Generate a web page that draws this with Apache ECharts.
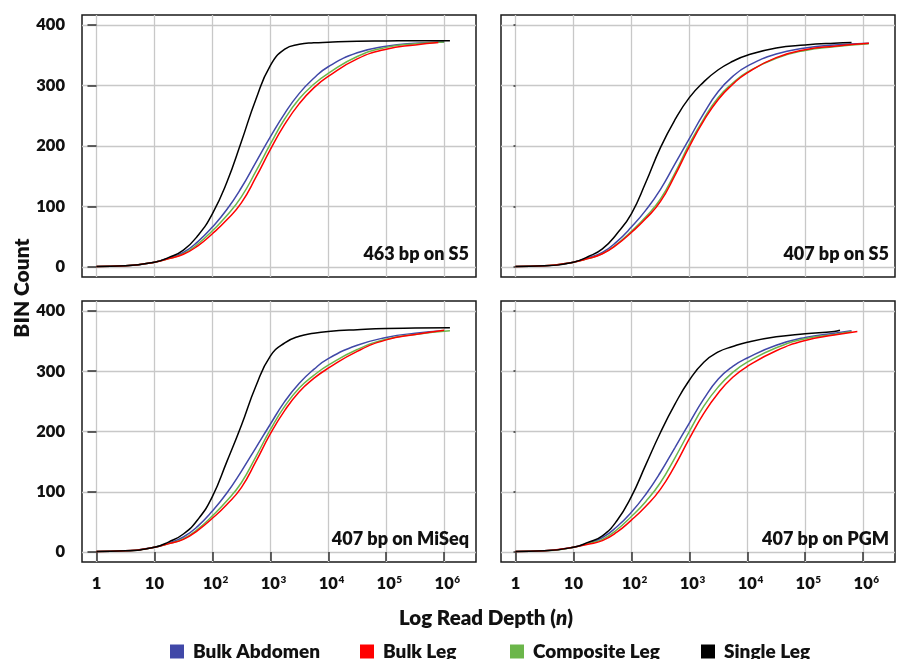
<!DOCTYPE html>
<html>
<head>
<meta charset="utf-8">
<script src="https://cdn.jsdelivr.net/npm/echarts@6/dist/echarts.min.js"></script>
<style>
  html, body { margin: 0; padding: 0; background: #ffffff; }
  #chart { width: 900px; height: 659px; }
</style>
</head>
<body>
<div id="chart"></div>
<script>
// ---------------- DATA ----------------
// x positions are log10 of read depth n (n = 10^exp)
const depthExp = [0, 0.5, 1, 1.25, 1.5, 1.75, 2, 2.25, 2.5, 2.75, 3, 3.25, 3.5, 3.75, 4, 4.5, 5, 5.5];

const seriesNames = ['Bulk Abdomen', 'Bulk Leg', 'Composite Leg', 'Single Leg'];
const panelTitles = ['463 bp on S5', '407 bp on S5', '407 bp on MiSeq', '407 bp on PGM'];

// Panel 1: 463 bp on S5
const p1Abdomen   = [1, 2, 8, 15, 24, 42, 66, 95, 131, 173, 215, 254, 287, 312, 331, 354, 365, 370];
const p1Leg       = [1, 2, 8, 14, 21, 35, 55, 78, 106, 148, 194, 236, 270, 296, 315, 344, 360, 367];
const p1Composite = [1, 2, 8, 14, 22, 38, 60, 85, 116, 158, 203, 245, 278, 302, 320, 348, 363, 369];
const p1Single    = [1, 2, 8, 16, 28, 52, 88, 140, 207, 277, 333, 360, 368, 370.5, 371.5, 373, 373.5, 374];
const p1EndExp = [6.0, 5.9, 6.0, 6.1];
const p1EndVal = [372, 371, 372, 374];

// Panel 2: 407 bp on S5
const p2Abdomen   = [1, 2, 8, 15, 24, 42, 66, 94, 128, 170, 212, 254, 290, 315, 332, 352, 362, 367];
const p2Leg       = [1, 2, 8, 14, 22, 37, 57, 80, 108, 151, 199, 242, 277, 302, 321, 346, 359, 365];
const p2Composite = [1, 2, 8, 14, 22, 38, 59, 83, 112, 155, 203, 245, 280, 304, 322, 345, 358, 364];
const p2Single    = [1, 2, 8, 17, 30, 55, 88, 140, 197, 243, 280, 306, 326, 340, 350, 362, 367, 370];
const p2EndExp = [6.1, 6.1, 6.1, 5.8];
const p2EndVal = [370, 370, 369, 371];

// Panel 3: 407 bp on MiSeq
const p3Abdomen   = [1, 2, 8, 15, 25, 43, 68, 98, 134, 173, 212, 250, 280, 303, 321, 343, 356, 363];
const p3Leg       = [1, 2, 8, 14, 21, 36, 56, 79, 107, 150, 196, 235, 266, 288, 305, 333, 352, 361];
const p3Composite = [1, 2, 8, 14, 22, 38, 60, 85, 115, 158, 203, 242, 272, 293, 310, 336, 353, 361];
const p3Single    = [1, 2, 8, 17, 30, 54, 92, 150, 210, 275, 325, 347, 358, 363, 366, 369, 371, 371.5];
const p3EndExp = [6.0, 6.0, 6.1, 6.1];
const p3EndVal = [367, 368, 367, 372];

// Panel 4: 407 bp on PGM
const p4Abdomen   = [1, 2, 8, 15, 24, 42, 66, 96, 132, 173, 214, 254, 287, 308, 322, 343, 356, 363];
const p4Leg       = [1, 2, 8, 13, 19, 33, 53, 76, 104, 143, 188, 230, 264, 290, 308, 334, 351, 360];
const p4Composite = [1, 2, 8, 14, 21, 37, 59, 84, 115, 156, 200, 242, 274, 298, 315, 339, 354, 361];
const p4Single    = [1, 2, 8, 16, 27, 52, 92, 145, 198, 245, 285, 315, 332, 341, 348, 357, 362, 366];
const p4EndExp = [5.8, 5.9, 5.8, 5.6];
const p4EndVal = [367, 366, 366, 368];

// axis ticks
const xTickExp = [0, 1, 2, 3, 4, 5, 6];
const xTickLabels = ['1', '10', '10^2', '10^3', '10^4', '10^5', '10^6'];
const yTicks = [0, 100, 200, 300, 400];

// ---------------- STYLE / LAYOUT ----------------
const FONT = 'Lato, "Open Sans", "DejaVu Sans", sans-serif';
const W = 800;
const TXT = '#111111';
const colors = {
  'Bulk Abdomen': '#4048a8',
  'Bulk Leg': '#ff0000',
  'Composite Leg': '#6bb64a',
  'Single Leg': '#000000'
};
const grids = [
  { left: 82,  top: 15,  width: 394, height: 262 },
  { left: 501, top: 15,  width: 394, height: 262 },
  { left: 82,  top: 301, width: 394, height: 261 },
  { left: 501, top: 301, width: 394, height: 261 }
];

const panels = [
  { Abdomen: p1Abdomen, Leg: p1Leg, Composite: p1Composite, Single: p1Single, endExp: p1EndExp, endVal: p1EndVal },
  { Abdomen: p2Abdomen, Leg: p2Leg, Composite: p2Composite, Single: p2Single, endExp: p2EndExp, endVal: p2EndVal },
  { Abdomen: p3Abdomen, Leg: p3Leg, Composite: p3Composite, Single: p3Single, endExp: p3EndExp, endVal: p3EndVal },
  { Abdomen: p4Abdomen, Leg: p4Leg, Composite: p4Composite, Single: p4Single, endExp: p4EndExp, endVal: p4EndVal }
];

function buildData(vals, endExp, endVal) {
  const d = vals.map((v, k) => [depthExp[k], v]);
  d.push([endExp, endVal]);
  return d;
}

function xFormatter(value) {
  const idx = xTickExp.indexOf(Math.round(value));
  const lab = idx >= 0 ? xTickLabels[idx] : '';
  if (lab.indexOf('^') >= 0) {
    const parts = lab.split('^');
    return '{p| }{b|' + parts[0] + '}{s|' + parts[1] + '}';
  }
  return '{b|' + lab + '}';
}

const gridLineStyle = { color: '#c8c8c8', width: 1.3 };
const tickLineStyle = { color: '#333333', width: 1.5 };

const xAxes = grids.map((g, i) => {
  const bottom = i >= 2;
  return {
    type: 'value', gridIndex: i, min: -0.25, max: 6.55,
    axisLine: { show: false },
    axisTick: { show: bottom, length: 9, customValues: xTickExp, lineStyle: tickLineStyle },
    axisLabel: {
      show: bottom, customValues: xTickExp, margin: 13,
      formatter: xFormatter,
      color: TXT, fontFamily: FONT, fontWeight: W, fontSize: 16,
      rich: {
        b: { fontFamily: FONT, fontWeight: W, fontSize: 16.5, color: TXT, lineHeight: 18, verticalAlign: 'middle' },
        s: { fontFamily: FONT, fontWeight: W, fontSize: 10, color: TXT, lineHeight: 10, verticalAlign: 'top', width: 7 },
        p: { fontSize: 10, lineHeight: 10, width: 7 }
      }
    },
    splitLine: { show: true, lineStyle: gridLineStyle }
  };
});

const yAxes = grids.map((g, i) => {
  const left = (i % 2) === 0;
  return {
    type: 'value', gridIndex: i, min: -16.5, max: 416.5,
    axisLine: { show: false },
    axisTick: { show: true, length: left ? 9 : 2, customValues: yTicks, lineStyle: tickLineStyle },
    axisLabel: {
      show: left, customValues: yTicks, margin: 17,
      color: TXT, fontFamily: FONT, fontWeight: W, fontSize: 16.5
    },
    splitLine: { show: true, lineStyle: gridLineStyle }
  };
});

// draw order: Abdomen, Composite, Leg (red over green), Single on top
const drawOrder = [['Bulk Abdomen', 'Abdomen', 0], ['Composite Leg', 'Composite', 2], ['Bulk Leg', 'Leg', 1], ['Single Leg', 'Single', 3]];
const series = [];
panels.forEach((p, i) => {
  drawOrder.forEach(([name, key, ei]) => {
    series.push({
      name: name, type: 'line', xAxisIndex: i, yAxisIndex: i,
      data: buildData(p[key], p.endExp[ei], p.endVal[ei]),
      showSymbol: false, symbol: 'none',
      smooth: 0.5,
      color: colors[name],
      lineStyle: { color: colors[name], width: 1.5 },
      emphasis: { disabled: true }
    });
  });
});

const legendLeft = [170, 360, 510, 701];
const legends = seriesNames.map((n, i) => ({
  data: [n], left: legendLeft[i], top: 642, padding: 0,
  icon: 'rect', itemWidth: 14, itemHeight: 14, selectedMode: false,
  textStyle: { fontFamily: FONT, fontWeight: W, fontSize: 19, color: TXT, padding: [0, 0, 0, 4] }
}));

const titlePos = [[469, 254], [889, 254], [469, 539], [889, 539]];
const graphic = panelTitles.map((t, i) => ({
  type: 'text', x: titlePos[i][0], y: titlePos[i][1], z: 100,
  style: { text: t, align: 'right', verticalAlign: 'middle', font: W + ' 18px ' + FONT, fill: TXT }
}));
graphic.push({
  type: 'text', x: 22, y: 288, rotation: Math.PI / 2, z: 100,
  style: { text: 'BIN Count', align: 'center', verticalAlign: 'middle', font: W + ' 21px ' + FONT, fill: TXT }
});
graphic.push({
  type: 'text', x: 486, y: 618, z: 100,
  style: {
    text: '{a|Log Read Depth (}{i|n}{a|)}', align: 'center', verticalAlign: 'middle',
    rich: {
      a: { font: W + ' 20.5px ' + FONT, fill: TXT },
      i: { font: 'italic ' + W + ' 20.5px ' + FONT, fill: TXT }
    }
  }
});

const chart = echarts.init(document.getElementById('chart'), null, { renderer: 'canvas' });
chart.setOption({
  animation: false,
  backgroundColor: '#ffffff',
  grid: grids.map(g => Object.assign({ show: true, borderColor: '#1a1a1a', borderWidth: 1.5, backgroundColor: 'transparent' }, g)),
  xAxis: xAxes,
  yAxis: yAxes,
  legend: legends,
  series: series,
  graphic: graphic
});
</script>
</body>
</html>
